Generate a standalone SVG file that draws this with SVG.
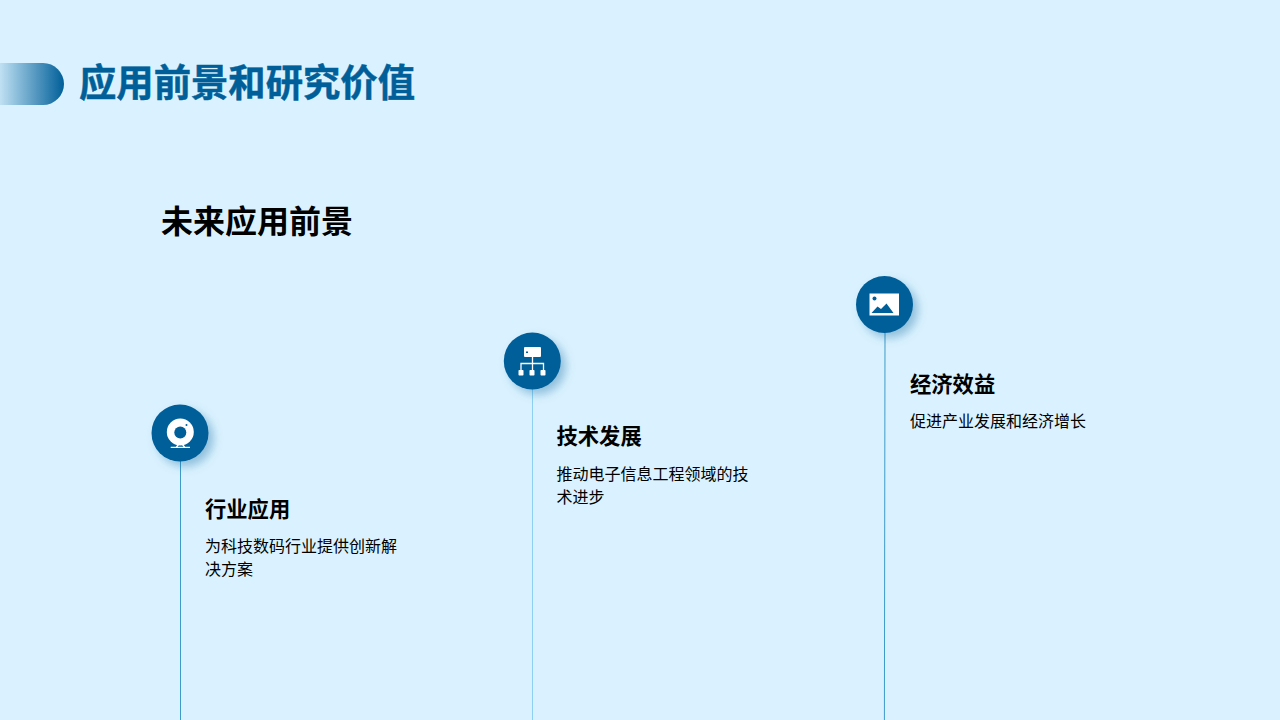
<svg xmlns="http://www.w3.org/2000/svg" width="1280" height="720" viewBox="0 0 1280 720">
<defs>
<linearGradient id="bar" x1="0" y1="0" x2="1" y2="0"><stop offset="0" stop-color="#005f99" stop-opacity="0.12"/><stop offset="1" stop-color="#005f99"/></linearGradient>
<filter id="sh" x="-50%" y="-50%" width="220%" height="220%"><feDropShadow dx="5" dy="5" stdDeviation="5" flood-color="#005f99" flood-opacity="0.35"/></filter>
</defs>
<style>
text{font-family:"Noto Sans CJK SC","Liberation Sans",sans-serif}
.h{font-size:21.300px;font-weight:700;fill:#000}
.b{font-size:16px;fill:#000}
.c{fill:#005f99;filter:url(#sh)}
.w{fill:#fff}
.l{fill:none;stroke:#fff;stroke-width:1.300}
</style>
<rect width="1280" height="720" fill="#daf2ff"/>
<g id="title">
<path d="M0 63H43A21 21 0 0 1 43 105H0Z" fill="url(#bar)"/>
<text x="79" y="96" font-size="37.500" font-weight="700" fill="#005f99" stroke="#005f99" stroke-width=".5" textLength="336" lengthAdjust="spacingAndGlyphs">应用前景和研究价值</text>
</g>
<text x="161" y="233" font-size="32" font-weight="700" fill="#000" textLength="192" lengthAdjust="spacingAndGlyphs">未来应用前景</text>
<g id="connectors" fill="none" stroke-width="1">
<line x1="180.500" y1="461" x2="180.500" y2="720" stroke="#3d9ac9"/>
<line x1="532.500" y1="389" x2="532.500" y2="720" stroke="#8dd0f2"/>
<line x1="885" y1="332" x2="884.400" y2="720" stroke="#3d9ac9"/>
</g>
<g id="node-1">
<circle class="c" cx="180" cy="433" r="28.500"/>
<circle class="w" cx="180.300" cy="432" r="13.500"/>
<circle cx="180.300" cy="432.500" r="6" fill="#005f99"/>
<circle cx="186.500" cy="425" r="1" fill="#005f99"/>
<path class="l" d="M170.700 447.300H190M176.500 447L178.500 444.500M184.500 447L182.500 444.500"/>
<text class="h" x="205" y="516.500">行业应用</text>
<text class="b" x="205" y="551.500">为科技数码行业提供创新解</text>
<text class="b" x="205" y="574.500">决方案</text>
</g>
<g id="node-2">
<circle class="c" cx="532.300" cy="361" r="28.500"/>
<rect class="w" x="524" y="347" width="17" height="10" rx="1"/>
<rect x="526" y="351.500" width="2" height="1.500" fill="#005f99"/>
<path class="l" d="M532.500 357V372M521 372V363.500H543.500V372"/>
<rect class="w" x="518.500" y="370" width="5" height="5.500" rx=".8"/>
<rect class="w" x="529.500" y="370" width="5" height="5.500" rx=".8"/>
<rect class="w" x="540.500" y="370" width="5" height="5.500" rx=".8"/>
<text class="h" x="556.500" y="444">技术发展</text>
<text class="b" x="556.500" y="479.500">推动电子信息工程领域的技</text>
<text class="b" x="556.500" y="502.500">术进步</text>
</g>
<g id="node-3">
<circle class="c" cx="884.500" cy="304.500" r="28.500"/>
<rect class="w" x="869.500" y="293.500" width="29.500" height="22"/>
<circle cx="874.500" cy="298.500" r="2" fill="#005f99"/>
<path fill="#005f99" d="M871.500 313L877.500 306.500 881 309 886.500 303.500 893.500 313Z"/>
<text class="h" x="910" y="391.500">经济效益</text>
<text class="b" x="910" y="426.500">促进产业发展和经济增长</text>
</g>
</svg>
